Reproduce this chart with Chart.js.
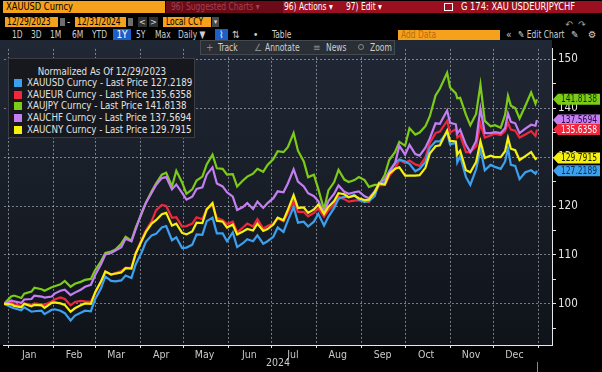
<!DOCTYPE html>
<html><head><meta charset="utf-8">
<script src="https://cdn.jsdelivr.net/npm/chart.js@4.4.1/dist/chart.umd.min.js"></script>
<style>
html,body{margin:0;padding:0;background:#000;width:602px;height:372px;overflow:hidden;
 font-family:"Liberation Sans Narrow","Arial Narrow","DejaVu Sans Condensed","Liberation Sans",Arial,sans-serif;}
.a{position:absolute;box-sizing:border-box;white-space:nowrap;}
.n{display:inline-block;transform:scaleX(0.84);transform-origin:0 50%;}
.org{background:#f5a11c;color:#000;}
.t3{color:#cfcfcf;font-size:10px;line-height:11px;top:29px;}
#cv{position:absolute;left:0;top:40px;}
#legend{left:8px;top:58px;width:187px;height:80px;background:#16181d;border:1px solid #3a3d44;color:#e2e2e2;font-size:11px;}
#legend .n{transform:scaleX(0.88);}
#legend .ttl{position:absolute;left:0;width:100%;text-align:center;top:6px;line-height:13px;}
#legend .ttl .n{transform-origin:50% 50%;}
#legend .it{position:absolute;left:5px;line-height:12px;}
#legend .sw{display:inline-block;width:8px;height:8px;margin-right:5px;vertical-align:-1px;}
#track{left:200px;top:40px;width:195px;height:15px;background:#2a2e35;border:1px solid #454a52;color:#d0d0d0;font-size:10px;line-height:13px;}
</style></head><body>

<!-- row 1 -->
<div class="a org" style="left:3px;top:1px;width:162px;height:12px;font-size:11px;line-height:12px;padding-left:3px;"><span class="n">XAUUSD Curncy</span></div>
<div class="a" style="left:166px;top:1px;width:117px;height:12px;background:#6a0b17;color:#a6404f;font-size:10px;line-height:12px;padding-left:5px;"><span class="n">96) Suggested Charts ▾</span></div>
<div class="a" style="left:283px;top:1px;width:319px;height:12px;background:#9a1020;"></div>
<div class="a" style="left:284px;top:1px;height:12px;color:#fff;font-size:10px;line-height:12px;"><span class="n">96) Actions ▾</span></div>
<div class="a" style="left:346px;top:1px;height:12px;color:#fff;font-size:10px;line-height:12px;"><span class="n">97) Edit ▾</span></div>
<div class="a" style="left:444px;top:3px;width:9px;height:8px;border:1px solid #fff;"></div>
<div class="a" style="left:461px;top:1px;height:12px;color:#fff;font-size:11px;line-height:12px;"><span class="n">G 174: XAU USDEURJPYCHF</span></div>

<!-- row 2 -->
<div class="a org" style="left:5px;top:17px;width:53px;height:10px;font-size:10px;line-height:10px;padding-left:2px;"><span class="n">12/29/2023</span></div>
<div class="a" style="left:60px;top:18px;width:5px;height:8px;background:#6d6d6d;"></div>
<div class="a" style="left:67px;top:16px;color:#ddd;font-size:10px;line-height:11px;">-</div>
<div class="a org" style="left:75px;top:17px;width:51px;height:10px;font-size:10px;line-height:10px;padding-left:2px;"><span class="n">12/31/2024</span></div>
<div class="a" style="left:128px;top:18px;width:5px;height:8px;background:#6d6d6d;"></div>
<div class="a" style="left:138px;top:17px;width:9px;height:10px;background:#303030;color:#ddd;font-size:9px;line-height:10px;text-align:center;">&lt;</div>
<div class="a" style="left:149px;top:17px;width:9px;height:10px;background:#303030;color:#ddd;font-size:9px;line-height:10px;text-align:center;">&gt;</div>
<div class="a org" style="left:163px;top:17px;width:48px;height:10px;font-size:10px;line-height:10px;padding-left:3px;"><span class="n">Local CCY</span></div>
<div class="a" style="left:212px;top:17px;width:7px;height:10px;background:#4a4a4a;color:#ddd;font-size:7px;line-height:10px;text-align:center;">▾</div>
<div class="a" style="left:565px;top:20px;color:#9a9a9a;font-size:10px;line-height:10px;">↶ &nbsp;↷</div>

<!-- row 3 -->
<div class="a t3" style="left:12px;"><span class="n">1D</span></div>
<div class="a t3" style="left:31px;"><span class="n">3D</span></div>
<div class="a t3" style="left:50px;"><span class="n">1M</span></div>
<div class="a t3" style="left:72px;"><span class="n">6M</span></div>
<div class="a t3" style="left:92px;"><span class="n">YTD</span></div>
<div class="a t3" style="left:113px;width:18px;background:#1d5fc8;color:#fff;text-align:center;">1Y</div>
<div class="a t3" style="left:136px;"><span class="n">5Y</span></div>
<div class="a t3" style="left:155px;"><span class="n">Max</span></div>
<div class="a t3" style="left:178px;"><span class="n">Daily ▼</span></div>
<div class="a t3" style="left:215px;width:13px;background:#1d5fc8;color:#fff;text-align:center;">⌇</div>
<div class="a t3" style="left:232px;">⇅</div>
<div class="a t3" style="left:253px;">•</div>
<div class="a t3" style="left:272px;"><span class="n">Table</span></div>
<div class="a org" style="left:398px;top:30px;width:102px;height:10px;color:#b86d0c;font-size:10px;line-height:10px;padding-left:3px;"><span class="n">Add Data</span></div>
<div class="a t3" style="left:506px;">«</div>
<div class="a t3" style="left:518px;"><span class="n">✎ Edit Chart</span></div>
<div class="a t3" style="left:571px;">✎</div>
<div class="a t3" style="left:588px;">⚙</div>

<canvas id="cv" width="602" height="332"></canvas>

<div id="track" class="a">
 <span class="a" style="left:5px;color:#8a8a8a;">+</span><span class="a" style="left:17px;"><span class="n">Track</span></span>
 <span class="a" style="left:53px;color:#8a8a8a;">∠</span><span class="a" style="left:64px;"><span class="n">Annotate</span></span>
 <span class="a" style="left:112px;color:#8a8a8a;">≡</span><span class="a" style="left:125px;"><span class="n">News</span></span>
 <span class="a" style="left:157px;top:3px;width:6px;height:6px;border:1px solid #8a8a8a;border-radius:50%;"></span><span class="a" style="left:169px;"><span class="n">Zoom</span></span>
</div>
<div id="legend" class="a"></div>

<script>
// ---- data ----
const days = [
 -3, 2, 4, 9, 11, 16, 18, 23, 25, 30,
 32, 36, 39, 43, 46, 50, 53, 57, 60, 64,
 67, 71, 74, 78, 81, 85, 88, 92, 95, 99,
 102, 106, 109, 113, 116, 120, 123, 127, 130, 134,
 137, 141, 144, 148, 151, 155, 158, 162, 165, 169,
 172, 176, 179, 183, 186, 190, 193, 197, 200, 204,
 207, 211, 214, 218, 221, 225, 228, 232, 235, 239,
 242, 246, 249, 253, 256, 260, 263, 267, 270, 274,
 277, 281, 284, 288, 291, 295, 298, 303, 305, 309,
 310, 312, 316, 319, 323, 326, 329, 333, 336, 340,
 343, 345, 347, 350, 353, 357, 361, 364, 365];

const xauusd = [
 100.0, 99.3, 99.1, 98.7, 99.3, 98.4, 98.5, 98.6, 97.9, 98.8,
 98.9, 98.6, 98.1, 96.6, 97.6, 98.2, 98.6, 98.5, 101.0, 103.2,
 105.6, 104.7, 104.6, 104.8, 105.8, 105.3, 108.1, 110.5, 112.7, 114.0,
 114.3, 115.6, 115.9, 113.0, 113.6, 111.4, 111.5, 112.1, 114.2, 114.1,
 116.9, 117.6, 114.4, 114.4, 112.8, 114.6, 111.6, 112.4, 113.2, 112.8,
 114.0, 112.3, 112.8, 113.7, 115.6, 114.7, 117.0, 119.8, 116.6, 116.8,
 115.8, 116.8, 118.4, 116.0, 117.8, 119.6, 121.5, 121.9, 121.8, 122.3,
 121.3, 120.8, 121.0, 122.0, 124.8, 124.8, 127.1, 128.8, 129.5, 129.1,
 128.6, 127.1, 127.6, 129.0, 131.9, 133.2, 133.2, 135.0, 132.6, 132.9,
 128.9, 130.2, 125.9, 124.3, 127.5, 131.6, 127.3, 128.4, 128.0, 127.6,
 129.1, 131.8, 128.4, 128.2, 125.5, 126.9, 127.3, 126.6, 127.2189];

const xaueur = [
 100.0, 100.3, 99.9, 99.6, 100.1, 99.8, 100.1, 99.9, 99.8, 100.5,
 100.9, 101.3, 101.0, 99.7, 100.4, 100.6, 100.5, 100.4, 102.3, 104.4,
 106.6, 106.0, 106.3, 106.7, 107.4, 107.3, 110.4, 113.1, 115.0, 116.9,
 119.1, 120.2, 120.0, 117.6, 117.7, 115.8, 115.9, 116.4, 117.7, 117.3,
 119.4, 120.2, 117.6, 117.1, 116.3, 116.8, 114.6, 115.6, 116.4, 115.8,
 117.3, 115.4, 115.9, 116.4, 117.5, 116.9, 118.5, 121.0, 118.8, 118.8,
 117.9, 118.6, 119.5, 117.8, 119.1, 120.3, 121.9, 121.4, 120.9, 121.1,
 121.2, 121.0, 120.8, 122.6, 124.2, 124.3, 126.1, 127.6, 129.4, 128.8,
 129.3, 128.5, 128.2, 129.9, 132.9, 134.9, 135.2, 137.4, 135.0, 135.7,
 134.0, 134.5, 131.0, 131.0, 132.2, 136.8, 134.0, 134.4, 134.8, 134.5,
 135.3, 137.0, 135.6, 135.4, 134.0, 134.6, 135.3, 134.3, 135.6358];

const xaujpy = [
 100.0, 101.5, 101.7, 101.2, 102.1, 102.5, 103.3, 103.0, 102.7, 103.4,
 103.6, 104.0, 104.7, 103.5, 104.1, 104.5, 104.9, 105.1, 106.9, 108.7,
 110.4, 110.7, 111.1, 112.3, 113.7, 112.9, 115.6, 118.4, 120.7, 123.0,
 124.6, 126.4, 126.8, 124.0, 127.2, 124.8, 122.5, 123.4, 125.2, 126.0,
 128.5, 130.5, 127.7, 127.6, 126.4, 126.5, 124.0, 125.2, 126.0, 126.6,
 127.6, 127.0, 128.4, 129.6, 131.2, 131.0, 132.0, 134.9, 131.3, 129.1,
 125.9, 126.4, 123.5, 119.3, 123.2, 124.9, 127.4, 125.4, 124.9, 125.3,
 125.9, 125.3, 123.9, 124.3, 124.3, 126.4, 129.4, 131.0, 133.1, 132.3,
 135.9, 134.6, 135.0, 136.3, 138.3, 142.6, 144.0, 147.2, 144.2, 143.0,
 142.0, 142.1, 138.6, 136.5, 138.8, 144.8, 137.4, 136.3, 136.5, 136.0,
 138.6, 142.5, 140.5, 140.0, 137.9, 140.5, 143.2, 140.9, 141.8138];

const xauchf = [
 100.0, 100.7, 100.5, 100.2, 100.9, 101.0, 101.7, 101.5, 101.3, 101.5,
 102.1, 102.7, 102.9, 101.8, 102.3, 102.9, 103.5, 103.9, 105.9, 108.1,
 110.1, 110.4, 110.9, 111.6, 113.3, 112.8, 115.3, 118.6, 120.6, 122.7,
 124.3, 125.7, 125.9, 123.4, 124.4, 122.7, 121.3, 121.9, 123.5, 123.8,
 126.4, 127.9, 124.6, 124.0, 122.8, 121.9, 119.2, 119.8, 120.6, 119.4,
 120.9, 119.6, 120.6, 121.6, 123.0, 122.8, 124.6, 127.5, 125.0, 124.0,
 122.6, 122.0, 121.0, 118.6, 121.0, 122.5, 124.2, 122.9, 122.5, 122.8,
 123.0, 122.0, 121.6, 123.0, 124.6, 125.5, 127.0, 128.7, 132.3, 130.5,
 132.5, 130.6, 130.3, 131.9, 133.8, 136.9, 136.8, 139.5, 137.0, 136.7,
 134.8, 135.6, 132.5, 131.0, 133.3, 139.9, 134.9, 134.9, 135.1, 134.9,
 135.9, 138.9, 137.2, 136.9, 134.9, 135.8, 136.6, 136.4, 137.5694];

const xaucny = [
 100.0, 99.9, 99.6, 99.3, 100.0, 99.5, 99.8, 99.7, 99.2, 100.2,
 100.3, 100.1, 99.8, 98.4, 99.1, 99.7, 100.1, 100.0, 102.4, 104.6,
 106.6, 106.0, 106.2, 106.4, 107.3, 107.2, 110.3, 112.8, 114.7, 116.4,
 117.1, 118.3, 118.6, 116.0, 116.4, 114.5, 114.2, 114.8, 116.6, 116.5,
 119.3, 120.6, 117.0, 116.8, 115.6, 116.2, 114.2, 114.8, 115.3, 115.0,
 116.4, 114.9, 115.3, 116.2, 117.6, 117.1, 119.2, 122.2, 119.6, 119.7,
 118.6, 119.3, 120.3, 118.4, 119.8, 121.0, 122.6, 122.4, 121.8, 122.1,
 121.6, 121.2, 121.3, 122.8, 124.6, 124.4, 126.6, 127.6, 127.9, 126.2,
 126.2, 126.2, 126.3, 127.8, 130.7, 132.2, 132.4, 135.4, 133.3, 133.2,
 130.5, 131.3, 127.3, 126.9, 129.0, 133.2, 129.8, 130.3, 130.0, 130.0,
 131.2, 133.9, 131.7, 131.4, 129.4, 130.2, 131.0, 129.6, 129.7915];

const seriesNames = ['XAUUSD Curncy', 'XAUEUR Curncy', 'XAUJPY Curncy', 'XAUCHF Curncy', 'XAUCNY Curncy'];
const seriesValues = [xauusd, xaueur, xaujpy, xauchf, xaucny];
const monthLabels = ['Jan','Feb','Mar','Apr','May','Jun','Jul','Aug','Sep','Oct','Nov','Dec'];
const monthStartDays = [0, 31, 60, 91, 121, 152, 182, 213, 244, 274, 305, 335, 366];
const yearLabel = '2024';
const normalizedAsOf = '12/29/2023';
const priceField = 'Last Price';

// ---- styles ----
const seriesColors = ['#3ba0ee', '#f2263d', '#7ccb17', '#c47ef2', '#f6f00e'];
const tagTextColors = ['#0a2d55', '#ffffff', '#173000', '#2a0a45', '#222000'];
const drawOrder = [2, 3, 4, 1, 0]; // lower = on top
const gridCol = 'rgba(205,210,220,0.55)';
const fontFam = '"Liberation Sans Narrow","Arial Narrow","DejaVu Sans Condensed",Arial,sans-serif';

// legend (HTML text)
const lg = document.getElementById('legend');
let html = '<div class="ttl"><span class="n">Normalized As Of ' + normalizedAsOf + '</span></div>';
seriesNames.forEach((n, i) => {
  const last = seriesValues[i][seriesValues[i].length - 1];
  html += '<div class="it" style="top:' + (18 + i * 11.7).toFixed(1) + 'px"><span class="sw" style="background:' +
    seriesColors[i] + '"></span><span class="n">' + n + ' - ' + priceField + ' ' + last.toFixed(4) + '</span></div>';
});
lg.innerHTML = html;

const bgPlugin = {
  id: 'bg',
  beforeDraw(chart) {
    const {ctx, chartArea} = chart;
    const g = ctx.createLinearGradient(0, 0, 0, chartArea.bottom);
    g.addColorStop(0, '#212835');
    g.addColorStop(1, '#0f1319');
    ctx.save();
    ctx.fillStyle = g;
    ctx.fillRect(0, 0, chartArea.right, chartArea.bottom);
    ctx.restore();
  }
};

const tagPlugin = {
  id: 'tags',
  afterDraw(chart) {
    const {ctx} = chart;
    const ys = chart.scales.y;
    const xs = chart.scales.x;
    const order = [0, 4, 2, 3, 1];
    ctx.save();
    ctx.font = '10.5px ' + fontFam;
    ctx.textBaseline = 'middle';
    ctx.textAlign = 'center';
    order.forEach(i => {
      const vals = seriesValues[i];
      const v = vals[vals.length - 1];
      const y = ys.getPixelForValue(v);
      const x0 = ys.left + 1, x1 = x0 + 5, x2 = 600, h = 5.5;
      ctx.fillStyle = seriesColors[i];
      ctx.beginPath();
      ctx.moveTo(x0, y);
      ctx.lineTo(x1, y - h);
      ctx.lineTo(x2, y - h);
      ctx.lineTo(x2, y + h);
      ctx.lineTo(x1, y + h);
      ctx.closePath();
      ctx.fill();
      ctx.fillStyle = tagTextColors[i];
      ctx.save();
      ctx.translate((x1 + x2) / 2, y + 0.5);
      ctx.scale(0.8, 1);
      ctx.fillText(v.toFixed(4), 0, 0);
      ctx.restore();
    });
    // end-of-data marker under the axis
    const xe = Math.round(xs.getPixelForValue(days[days.length - 1])) + 0.5;
    ctx.strokeStyle = '#8a8a8a';
    ctx.lineWidth = 1;
    ctx.beginPath();
    ctx.moveTo(xe, chart.height - 10);
    ctx.lineTo(xe, chart.height);
    ctx.stroke();
    ctx.restore();
  }
};

new Chart(document.getElementById('cv'), {
  type: 'line',
  data: {
    datasets: seriesNames.map((n, i) => ({
      label: n,
      data: days.map((d, k) => ({x: d, y: seriesValues[i][k]})),
      borderColor: seriesColors[i],
      borderWidth: 2.2,
      pointRadius: 0,
      tension: 0,
      order: drawOrder[i]
    }))
  },
  options: {
    responsive: false,
    animation: false,
    devicePixelRatio: 1,
    layout: {padding: {top: 2, left: 3, right: 0, bottom: 0}},
    plugins: {legend: {display: false}, tooltip: {enabled: false}},
    scales: {
      x: {
        type: 'linear',
        min: -3,
        max: 375.4,
        afterBuildTicks: s => { s.ticks = monthStartDays.map(v => ({value: v})); },
        afterFit: s => { s.height = 27; },
        grid: {color: gridCol, lineWidth: 1, drawTicks: true, tickLength: 3, tickColor: '#e0e0e0'},
        border: {display: true, color: '#e8e8e8', width: 1, dash: [2, 2]},
        ticks: {
          autoSkip: false, maxRotation: 0, padding: 1, labelOffset: 21,
          color: '#c9c9c9', font: {family: fontFam, size: 10.5},
          callback: (v, i) => (i < monthLabels.length ? monthLabels[i] : '')
        },
        title: {display: true, text: yearLabel, color: '#c9c9c9', font: {family: fontFam, size: 10.5}, padding: {top: 0, bottom: 2}}
      },
      y: {
        position: 'right',
        min: 91.6,
        max: 152.1,
        afterFit: s => { s.width = 50; },
        grid: {
          color: c => (c.tick && c.tick.value % 10 === 0 ? gridCol : 'rgba(0,0,0,0)'),
          drawTicks: true, tickLength: 4, tickColor: '#e0e0e0'
        },
        border: {display: true, color: '#e8e8e8', width: 1, dash: [2, 2]},
        ticks: {
          stepSize: 5, includeBounds: false, padding: 2,
          color: '#e6e6e6', font: {family: fontFam, size: 11.5},
          callback: v => (v % 10 === 0 ? String(v) : '')
        }
      }
    }
  },
  plugins: [bgPlugin, tagPlugin]
});
</script>
</body></html>
